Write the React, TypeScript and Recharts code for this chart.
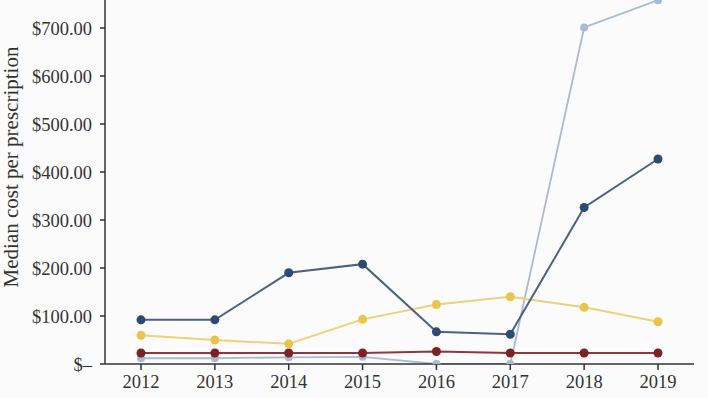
import * as React from 'react';
import { LineChart, Line, XAxis, YAxis } from 'recharts';

// Years on the x axis
const YEARS = ['2012', '2013', '2014', '2015', '2016', '2017', '2018', '2019'];

// Median cost per prescription, one array per line
const NAVY = [92, 92, 190, 208, 67, 62, 326, 427];
const GOLD = [60, 50, 42, 93, 124, 140, 118, 88];
const MAROON = [23, 23, 23, 23, 26, 23, 23, 23];
const LIGHT_BLUE = [12, 12, 14, 15, 0, 0, 701, 758];

const Y_TICKS = [0, 100, 200, 300, 400, 500, 600, 700];

const FONT = '"Liberation Serif", "DejaVu Serif", serif';

const data = YEARS.map((year, i) => ({
  year,
  navy: NAVY[i],
  gold: GOLD[i],
  maroon: MAROON[i],
  lightBlue: LIGHT_BLUE[i],
}));

const formatMoney = (v: number) => (v === 0 ? '$\u2013' : `$${v.toFixed(2)}`);

export default function App() {
  return (
    <div style={{ position: 'absolute', left: 0, top: 0, width: 708, height: 398, background: '#fbfbfb' }}>
      <LineChart
        width={708}
        height={398}
        data={data}
        margin={{ top: 0, right: 14, left: 0, bottom: 0 }}
      >
        <XAxis
          dataKey="year"
          height={34}
          padding={{ left: 36, right: 36 }}
          axisLine={{ stroke: '#333', strokeWidth: 1.5 }}
          tickLine={{ stroke: '#333', strokeWidth: 1.5 }}
          tickSize={6}
          tickMargin={5}
          tick={{ fill: '#333', fontSize: 18.5, fontFamily: FONT }}
        />
        <YAxis
          width={105}
          domain={[0, 758.33]}
          ticks={Y_TICKS}
          allowDataOverflow
          tickFormatter={formatMoney}
          axisLine={{ stroke: '#333', strokeWidth: 1.5 }}
          tickLine={{ stroke: '#333', strokeWidth: 1.5 }}
          tickSize={5}
          tickMargin={8}
          tick={{ fill: '#333', fontSize: 18.5, fontFamily: FONT }}
          label={{
            content: () => (
              <text
                x={18}
                y={167}
                transform="rotate(-90 18 167)"
                textAnchor="middle"
                fill="#333"
                fontSize={21}
                fontFamily={FONT}
              >
                Median cost per prescription
              </text>
            ),
          }}
        />
        <Line
          dataKey="lightBlue"
          stroke="#a9bad1"
          strokeWidth={1.8}
          dot={{ r: 4, fill: '#a9bad1', stroke: '#a9bad1', strokeWidth: 0 }}
          isAnimationActive={false}
        />
        <Line
          dataKey="maroon"
          stroke="#8a3a3c"
          strokeWidth={2}
          dot={{ r: 4.5, fill: '#7a2226', stroke: '#7a2226', strokeWidth: 0 }}
          isAnimationActive={false}
        />
        <Line
          dataKey="gold"
          stroke="#ecd27c"
          strokeWidth={2}
          dot={{ r: 4.5, fill: '#e8c64c', stroke: '#e8c64c', strokeWidth: 0 }}
          isAnimationActive={false}
        />
        <Line
          dataKey="navy"
          stroke="#4d6182"
          strokeWidth={2}
          dot={{ r: 4.5, fill: '#2f4a72', stroke: '#2f4a72', strokeWidth: 0 }}
          isAnimationActive={false}
        />
      </LineChart>
    </div>
  );
}
